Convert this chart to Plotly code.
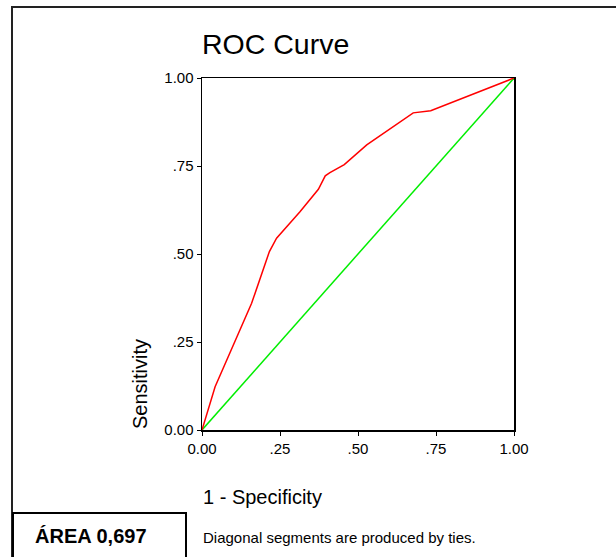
import plotly.graph_objects as go

# Data
fpr = [0.0, 0.042, 0.159, 0.216, 0.239, 0.314, 0.373, 0.395, 0.410, 0.456, 0.528, 0.677, 0.733, 1.0]
tpr = [0.0, 0.123, 0.360, 0.507, 0.545, 0.620, 0.684, 0.722, 0.731, 0.754, 0.810, 0.901, 0.907, 1.0]
diag = [0.0, 1.0]
tick_vals = [0.0, 0.25, 0.5, 0.75, 1.0]
tick_text = ["0.00", ".25", ".50", ".75", "1.00"]

W, H = 616, 557
# plot area in pixels
PL, PR, PT, PB = 202, 514, 78, 430
FONT = "Liberation Sans, Arial, Helvetica, sans-serif"

def px(p):  # pixel x -> paper
    return (p - PL) / (PR - PL)

def py(p):  # pixel y -> paper
    return (PB - p) / (PB - PT)

fig = go.Figure()
fig.add_trace(go.Scatter(x=diag, y=diag, mode="lines",
                         line=dict(color="#00ee00", width=1.5), hoverinfo="skip"))
fig.add_trace(go.Scatter(x=fpr, y=tpr, mode="lines",
                         line=dict(color="#ff0000", width=1.5), hoverinfo="skip"))

axis_common = dict(range=[0, 1], tickvals=tick_vals, ticktext=tick_text,
                   showgrid=False, zeroline=False, showline=True, linecolor="black",
                   linewidth=1.5, mirror=True, ticks="outside", ticklen=4,
                   tickwidth=1, tickcolor="black",
                   tickfont=dict(family=FONT, size=15, color="black"))

fig.update_layout(
    width=W, height=H,
    margin=dict(l=PL, r=W - PR, t=PT, b=H - PB),
    paper_bgcolor="white", plot_bgcolor="white",
    showlegend=False,
    xaxis=dict(**axis_common),
    yaxis=dict(**axis_common),
)

shapes = [
    # outer frame (left and top edges)
    dict(type="line", xref="paper", yref="paper", x0=px(12), x1=px(12), y0=py(6), y1=py(600),
         line=dict(color="#222", width=2)),
    dict(type="line", xref="paper", yref="paper", x0=px(11), x1=px(700), y0=py(7), y1=py(7),
         line=dict(color="#222", width=2)),
    # area box
    dict(type="rect", xref="paper", yref="paper", x0=px(13), x1=px(186), y0=py(513), y1=py(600),
         line=dict(color="black", width=2), fillcolor="rgba(0,0,0,0)"),
]
fig.update_layout(shapes=shapes)

annotations = [
    dict(text="ROC Curve", x=px(200), y=py(44), xref="paper", yref="paper",
         xanchor="left", yanchor="middle", showarrow=False,
         font=dict(family=FONT, size=28.5, color="black")),
    dict(text="Sensitivity", x=px(140), y=py(431), xref="paper", yref="paper",
         xanchor="center", yanchor="bottom", textangle=-90, showarrow=False,
         font=dict(family=FONT, size=20, color="black")),
    dict(text="1 - Specificity", x=px(201), y=py(497), xref="paper", yref="paper",
         xanchor="left", yanchor="middle", showarrow=False,
         font=dict(family=FONT, size=20, color="black")),
    dict(text="Diagonal segments are produced by ties.", x=px(201), y=py(537), xref="paper", yref="paper",
         xanchor="left", yanchor="middle", showarrow=False,
         font=dict(family=FONT, size=15, color="black")),
    dict(text="<b>ÁREA 0,697</b>", x=px(33), y=py(536), xref="paper", yref="paper",
         xanchor="left", yanchor="middle", showarrow=False,
         font=dict(family=FONT, size=20, color="black")),
]
fig.update_layout(annotations=annotations)

fig.write_html("out.html",
               config={"displayModeBar": False, "staticPlot": True},
               post_script="document.body.style.margin='0';document.body.style.overflow='hidden';")
